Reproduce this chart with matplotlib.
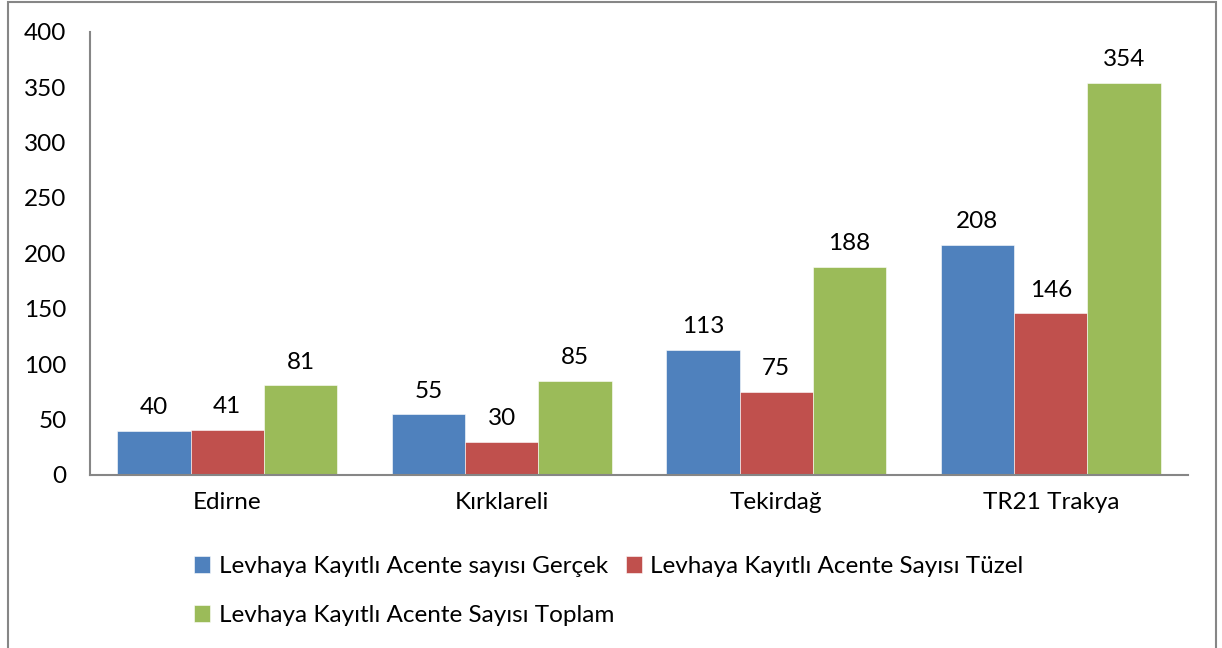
import matplotlib.pyplot as plt
import numpy as np
from matplotlib.patches import Rectangle

plt.rcParams["font.family"] = ["Lato", "DejaVu Sans"]

iller = ["Edirne", "Kırklareli", "Tekirdağ", "TR21 Trakya"]
gercek = [40, 55, 113, 208]
tuzel = [41, 30, 75, 146]
toplam = [81, 85, 188, 354]
seri_adlari = [
    "Levhaya Kayıtlı Acente sayısı Gerçek",
    "Levhaya Kayıtlı Acente Sayısı Tüzel",
    "Levhaya Kayıtlı Acente Sayısı Toplam",
]
renkler = ["#4F81BD", "#C0504D", "#9BBB59"]
y_ticks = [0, 50, 100, 150, 200, 250, 300, 350, 400]
fs = 17.5

fig = plt.figure(figsize=(12.22, 6.48), dpi=100)
ax = fig.add_axes([0.0737, 0.267, 0.8985, 0.684])

x = np.arange(len(iller))
w = 0.267
bars = []
for i, (vals, ad, renk) in enumerate(zip([gercek, tuzel, toplam], seri_adlari, renkler)):
    b = ax.bar(x + (i - 1) * w, vals, w, color=renk, label=ad,
               edgecolor="white", linewidth=0.4)
    bars.append(b)
    for xi, v in zip(x + (i - 1) * w, vals):
        ax.annotate(str(v), (xi, v), xytext=(0, 9), textcoords="offset points",
                    ha="center", va="bottom", fontsize=fs)

ax.set_xlim(-0.5, len(iller) - 0.5)
ax.set_ylim(0, 400)
ax.set_yticks(y_ticks)
ax.set_xticks(x)
ax.set_xticklabels(iller)
ax.tick_params(axis="both", length=0, labelsize=fs)
ax.tick_params(axis="x", pad=12)
ax.tick_params(axis="y", pad=17)
for s in ["top", "right"]:
    ax.spines[s].set_visible(False)
for s in ["left", "bottom"]:
    ax.spines[s].set_color("#868686")
    ax.spines[s].set_linewidth(1.5)

# legend fills column-wise, so reorder to get the row-wise layout
h = [bars[0], bars[2], bars[1]]
lab = [seri_adlari[0], seri_adlari[2], seri_adlari[1]]
fig.legend(h, lab, ncol=2, loc="upper left", bbox_to_anchor=(0.159, 0.142),
           frameon=False, fontsize=fs, handlelength=0.65, handleheight=0.65,
           handletextpad=0.35, columnspacing=0.5, labelspacing=1.15,
           borderaxespad=0, borderpad=0)

# outer chart border
fig.patches.append(Rectangle((0.0065, -0.01), 0.9885, 1.007, transform=fig.transFigure,
                             fill=False, edgecolor="#868686", linewidth=1.5))

fig.savefig("out.png", dpi=100)
